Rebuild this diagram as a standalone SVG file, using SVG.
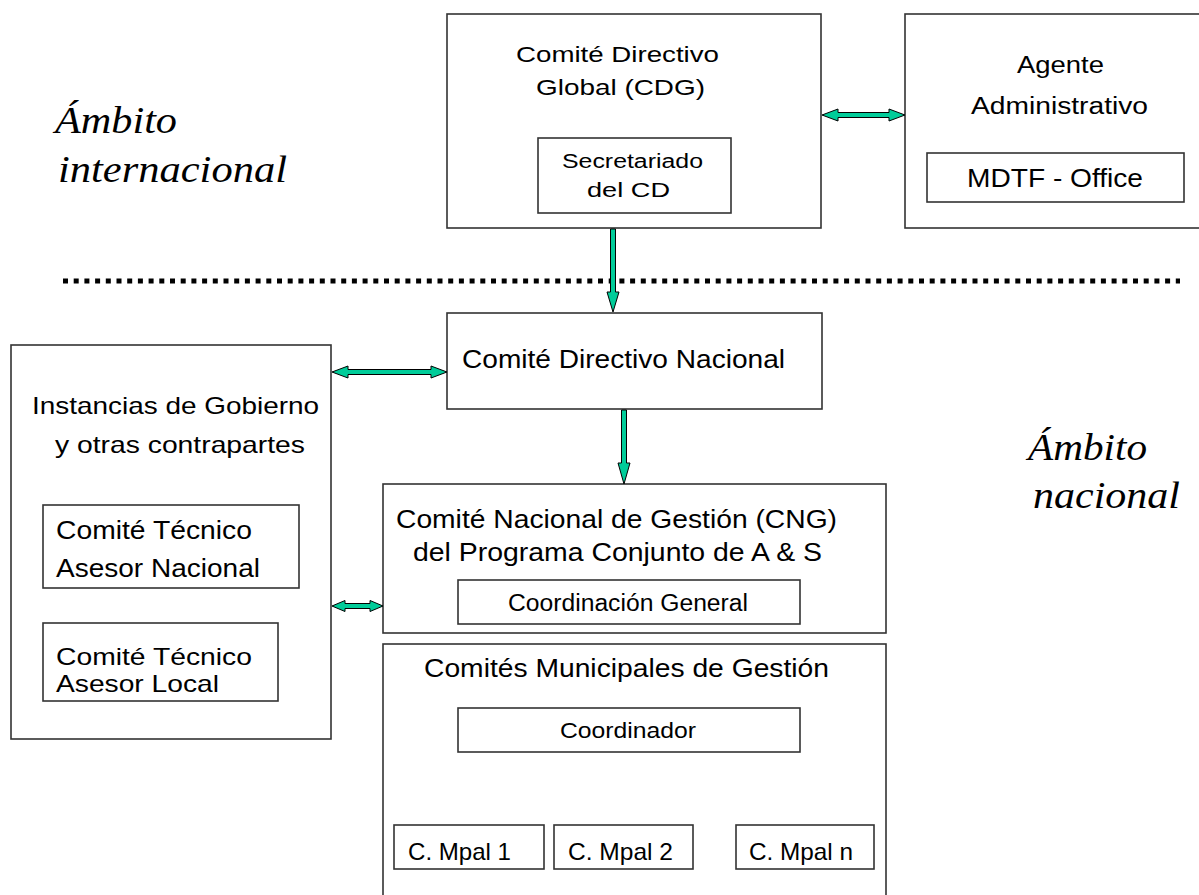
<svg xmlns="http://www.w3.org/2000/svg" width="1199" height="895" viewBox="0 0 1199 895">
<style>
.box{fill:#fff;stroke:#333;stroke-width:1.6}
.t{font-family:"Liberation Sans",Arial,sans-serif;fill:#000}
.it{font-family:"Liberation Serif","Times New Roman",serif;font-style:italic;fill:#000}
.arr{fill:#00cc99;stroke:#000;stroke-width:1;stroke-linejoin:miter}
</style>
<rect width="1199" height="895" fill="#fff"/>

<g id="labels-ambito">
<text class="it" x="55" y="133" font-size="38" textLength="122" lengthAdjust="spacingAndGlyphs">Ámbito</text>
<text class="it" x="58" y="182" font-size="38" textLength="229" lengthAdjust="spacingAndGlyphs">internacional</text>
<text class="it" x="1028" y="460" font-size="38" textLength="119" lengthAdjust="spacingAndGlyphs">Ámbito</text>
<text class="it" x="1033" y="508" font-size="38" textLength="147" lengthAdjust="spacingAndGlyphs">nacional</text>
</g>

<line id="separator" x1="63" y1="281" x2="1180" y2="281" stroke="#000" stroke-width="5" stroke-dasharray="5 5.7"/>

<g id="cdg">
<rect class="box" x="447" y="14" width="374" height="214"/>
<text class="t" x="516" y="62" font-size="22" textLength="203" lengthAdjust="spacingAndGlyphs">Comité Directivo</text>
<text class="t" x="536" y="95" font-size="22" textLength="169" lengthAdjust="spacingAndGlyphs">Global (CDG)</text>
</g>
<g id="secretariado">
<rect class="box" x="538" y="138" width="193" height="75"/>
<text class="t" x="562" y="168" font-size="20" textLength="141" lengthAdjust="spacingAndGlyphs">Secretariado</text>
<text class="t" x="587" y="197" font-size="20" textLength="83" lengthAdjust="spacingAndGlyphs">del CD</text>
</g>

<g id="agente">
<rect class="box" x="905" y="14" width="310" height="214"/>
<text class="t" x="1017" y="73" font-size="23" textLength="87" lengthAdjust="spacingAndGlyphs">Agente</text>
<text class="t" x="971" y="114" font-size="23" textLength="177" lengthAdjust="spacingAndGlyphs">Administrativo</text>
</g>
<g id="mdtf">
<rect class="box" x="927" y="153" width="257" height="49"/>
<text class="t" x="967" y="187" font-size="25" textLength="176" lengthAdjust="spacingAndGlyphs">MDTF - Office</text>
</g>

<g id="cdn">
<rect class="box" x="447" y="313" width="375" height="96"/>
<text class="t" x="462" y="368" font-size="26" textLength="323" lengthAdjust="spacingAndGlyphs">Comité Directivo Nacional</text>
</g>

<g id="instancias">
<rect class="box" x="11" y="345" width="320" height="394"/>
<text class="t" x="32" y="414" font-size="24" textLength="287" lengthAdjust="spacingAndGlyphs">Instancias de Gobierno</text>
<text class="t" x="55" y="453" font-size="24" textLength="250" lengthAdjust="spacingAndGlyphs">y otras contrapartes</text>
</g>
<g id="ct-nacional">
<rect class="box" x="43" y="505" width="256" height="83"/>
<text class="t" x="56" y="539" font-size="26" textLength="196" lengthAdjust="spacingAndGlyphs">Comité Técnico</text>
<text class="t" x="56" y="577" font-size="26" textLength="204" lengthAdjust="spacingAndGlyphs">Asesor Nacional</text>
</g>
<g id="ct-local">
<rect class="box" x="43" y="623" width="235" height="78"/>
<text class="t" x="56" y="665" font-size="24" textLength="196" lengthAdjust="spacingAndGlyphs">Comité Técnico</text>
<text class="t" x="56" y="692" font-size="24" textLength="163" lengthAdjust="spacingAndGlyphs">Asesor Local</text>
</g>

<g id="cng">
<rect class="box" x="383" y="484" width="503" height="149"/>
<text class="t" x="396" y="528" font-size="25" textLength="441" lengthAdjust="spacingAndGlyphs">Comité Nacional de Gestión (CNG)</text>
<text class="t" x="413" y="561" font-size="25" textLength="409" lengthAdjust="spacingAndGlyphs">del Programa Conjunto de A &amp; S</text>
</g>
<g id="coord-general">
<rect class="box" x="458" y="580" width="342" height="44"/>
<text class="t" x="508" y="611" font-size="23" textLength="240" lengthAdjust="spacingAndGlyphs">Coordinación General</text>
</g>

<g id="cmg">
<rect class="box" x="383" y="644" width="503" height="270"/>
<text class="t" x="424" y="677" font-size="25" textLength="405" lengthAdjust="spacingAndGlyphs">Comités Municipales de Gestión</text>
</g>
<g id="coordinador">
<rect class="box" x="458" y="708" width="342" height="44"/>
<text class="t" x="560" y="738" font-size="22" textLength="136" lengthAdjust="spacingAndGlyphs">Coordinador</text>
</g>
<g id="mpal1">
<rect class="box" x="394" y="825" width="150" height="44"/>
<text class="t" x="408" y="860" font-size="24" textLength="103" lengthAdjust="spacingAndGlyphs">C. Mpal 1</text>
</g>
<g id="mpal2">
<rect class="box" x="554" y="825" width="139" height="44"/>
<text class="t" x="568" y="860" font-size="24" textLength="105" lengthAdjust="spacingAndGlyphs">C. Mpal 2</text>
</g>
<g id="mpaln">
<rect class="box" x="736" y="825" width="138" height="44"/>
<text class="t" x="749" y="860" font-size="24" textLength="104" lengthAdjust="spacingAndGlyphs">C. Mpal n</text>
</g>

<g id="connectors">
<polygon class="arr" points="822,115 838,109 838,112.5 889,112.5 889,109 905,115 889,121 889,117.5 838,117.5 838,121"/>
<polygon class="arr" points="610.5,229 615.5,229 615.5,292 619,292 613,312 607,292 610.5,292"/>
<polygon class="arr" points="332,372 348,366 348,369.5 431,369.5 431,366 447,372 431,378 431,374.5 348,374.5 348,378"/>
<polygon class="arr" points="621.5,410 626.5,410 626.5,463 630,463 624,484 618,463 621.5,463"/>
<polygon class="arr" points="332,606 345,600.5 345,603.5 370,603.5 370,600.5 383,606 370,611.5 370,608.5 345,608.5 345,611.5"/>
</g>
</svg>
